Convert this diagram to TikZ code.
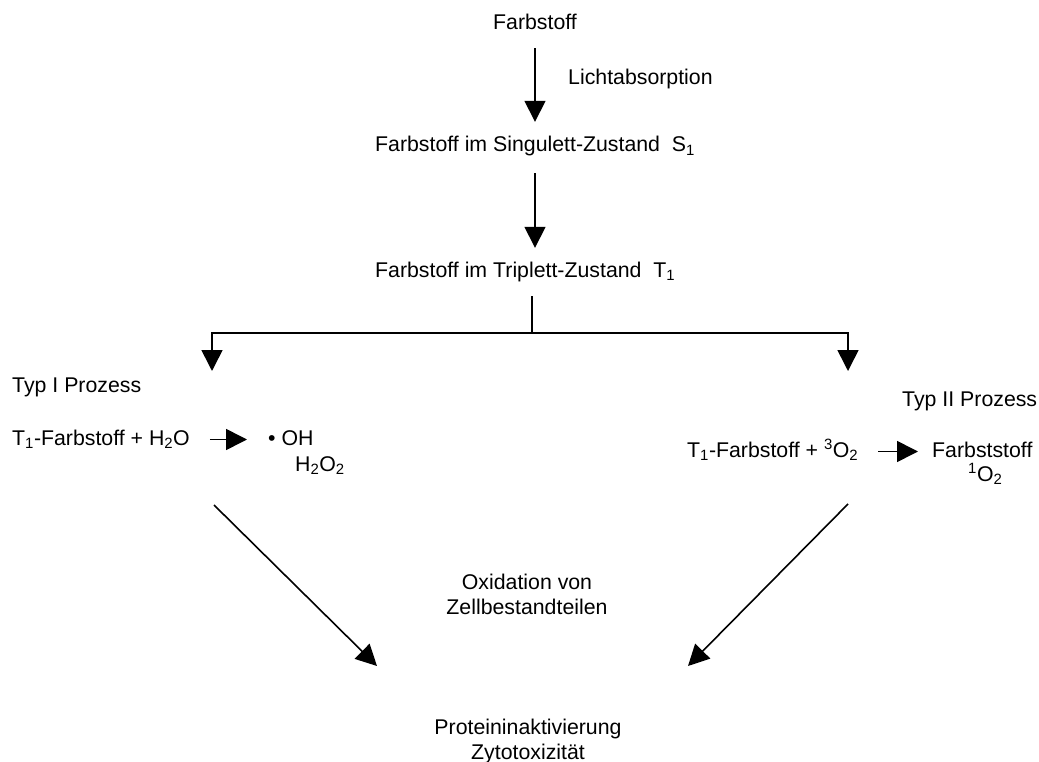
\documentclass[tikz,border=0pt]{standalone}
\usepackage{fontspec}
\setmainfont{Liberation Sans}
\usetikzlibrary{arrows.meta}
\begin{document}
\begin{tikzpicture}[x=1pt,y=-1pt,
  lab/.style={inner sep=0pt, text height=16pt, text depth=5pt, font=\fontsize{21.3}{25}\selectfont},
  conn/.style={line width=1.6pt, draw=black},
  arr/.style={conn, -{Triangle[length=21pt,width=21pt]}},
  ]
\useasboundingbox (0,0) rectangle (1039,762);
% nodes
\node[lab, anchor=base] (farb) at (535,30) {Farbstoff};
\node[lab, anchor=base west] (licht) at (568,85) {Lichtabsorption};
\node[lab, anchor=base west] (sing) at (375,152) {Farbstoff im Singulett-Zustand\ \ S\textsubscript{1}};
\node[lab, anchor=base west] (trip) at (375,277) {Farbstoff im Triplett-Zustand\ \ T\textsubscript{1}};
\node[lab, anchor=base west] (typ1) at (12,392) {Typ I Prozess};
\node[lab, anchor=base west] (typ2) at (902,406) {Typ II Prozess};
\node[lab, anchor=base west] (eqL) at (12,445) {T\textsubscript{1}-Farbstoff + H\textsubscript{2}O};
\node[lab, anchor=base west] (oh) at (268,445) {\textbullet\ OH};
\node[lab, anchor=base west] (hoo) at (295,471) {H\textsubscript{2}O\textsubscript{2}};
\node[lab, anchor=base west] (eqR) at (687,457) {T\textsubscript{1}-Farbstoff + \textsuperscript{3}O\textsubscript{2}};
\node[lab, anchor=base west] (fst) at (932,457) {Farbststoff};
\node[lab, anchor=base west] (so) at (968,481) {\textsuperscript{1}O\textsubscript{2}};
\node[lab, anchor=base, align=center] (oxi) at (527,614) {Oxidation von\\Zellbestandteilen};
\node[lab, anchor=base, align=center] (prot) at (528,759) {Proteininaktivierung\\Zytotoxizität};
% coordinates
\coordinate (br) at (532,333);
\coordinate (tl) at (212,371);
\coordinate (tr) at (848,371);
\coordinate (dl1) at (214,505);
\coordinate (dl2) at (377,666);
\coordinate (dr1) at (848,504);
\coordinate (dr2) at (688,666);
% connectors
\draw[arr, shorten <=13pt, shorten >=14pt] (farb.south) -- (farb.south |- sing.north);
\draw[arr, shorten <=16pt, shorten >=13pt] (farb.south |- sing.south) -- (farb.south |- trip.north);
\draw[conn, shorten <=14pt] (br |- trip.south) -- (br);
\draw[arr] (br) -| (tl);
\draw[arr] (br) -| (tr);
\draw[arr, shorten <=20pt, shorten >=21pt] (eqL.east) -- (oh.west |- eqL.east);
\draw[arr, shorten <=20pt, shorten >=14pt] (eqR.east) -- (fst.west |- eqR.east);
\draw[arr] (dl1) -- (dl2);
\draw[arr] (dr1) -- (dr2);
\end{tikzpicture}
\end{document}
